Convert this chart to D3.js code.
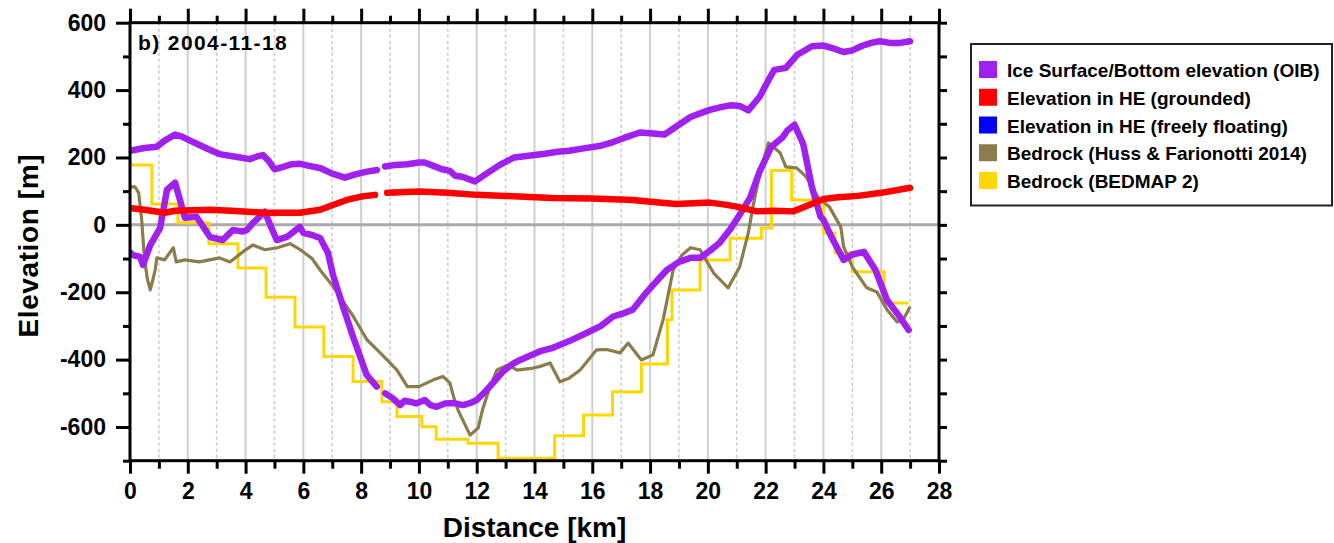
<!DOCTYPE html>
<html>
<head>
<meta charset="utf-8">
<script src="https://cdn.jsdelivr.net/npm/d3@7"></script>
<style>
  html, body { margin: 0; padding: 0; background: #fff; }
  svg { display: block; font-family: "Liberation Sans", Arial, sans-serif; font-weight: bold; }
</style>
</head>
<body>
<svg id="chart" width="1334" height="543"></svg>
<script>
// Profile along the flow line, distance in km, elevation in m (null = data gap)
const surfaceKm = [0,0.5,0.93,1.2,1.56,1.8,2.2,2.7,3.1,3.6,4.15,4.4,4.6,4.8,5.0,5.3,5.6,5.9,6.2,6.6,7.0,7.44,7.8,8.2,8.55,8.7,8.83,9.2,9.6,10.0,10.2,10.5,10.8,11.07,11.25,11.5,11.94,12.3,12.8,13.3,13.8,14.36,14.8,15.2,15.7,16.3,16.7,17.1,17.65,18.0,18.5,19.0,19.4,19.8,20.1,20.5,20.8,21.1,21.4,21.8,22.1,22.3,22.7,23.1,23.6,24.0,24.4,24.7,25.0,25.3,25.65,25.95,26.3,26.65,27.0];
const surfaceM  = [220,228,232,250,268,262,245,225,210,203,195,203,207,190,165,172,180,181,175,168,152,140,150,158,163,null,173,178,180,185,185,175,165,160,146,143,129,150,178,200,205,211,217,220,227,235,245,258,274,272,268,297,320,333,342,350,355,353,340,381,430,460,466,505,530,532,522,513,518,530,540,545,540,540,545];

const bottomKm = [0,0.1,0.35,0.45,0.7,1.04,1.28,1.56,1.73,1.9,2.3,2.77,3.2,3.57,3.9,4.05,4.26,4.67,4.85,5.08,5.43,5.88,6.0,6.3,6.58,6.85,7.03,7.4,7.72,8.19,8.54,8.7,8.83,9.1,9.35,9.5,9.69,9.9,10.2,10.4,10.61,10.9,11.2,11.53,11.8,12.0,12.35,12.6,12.9,13.2,13.5,14.2,14.64,15.2,15.8,16.3,16.72,17.1,17.4,17.9,18.3,18.58,19.0,19.4,19.73,20.1,20.4,20.8,21.1,21.46,21.8,22.2,22.6,22.75,23.0,23.3,23.6,23.9,24.0,24.3,24.7,25.0,25.4,25.8,26.2,26.6,26.95];
const bottomM  = [-82,-90,-95,-119,-60,-10,104,125,74,21,24,-36,-45,-15,-20,-15,6,39,0,-45,-36,-6,-24,-30,-39,-83,-150,-250,-332,-445,-480,null,-500,-515,-535,-522,-525,-530,-520,-535,-540,-530,-529,-535,-528,-520,-490,-465,-436,-415,-401,-375,-365,-345,-321,-300,-272,-262,-252,-198,-160,-134,-110,-98,-98,-75,-54,-10,30,80,160,232,261,280,297,240,113,24,15,-40,-104,-88,-80,-134,-223,-268,-312];

const heKm = [0,0.5,1.2,1.56,2.77,3.5,4.67,5.88,6.58,7.0,7.5,8.0,8.48,8.7,8.9,10.0,11.0,12.0,13.0,14.6,16.0,17.4,18.2,18.9,19.5,20.07,20.6,21.0,21.4,21.7,22.3,22.95,23.4,24.0,24.5,25.2,26.0,27.0];
const heM  = [50,45,36,42,45,42,36,36,45,58,74,84,89,null,95,99,95,89,86,80,78,74,67,62,64,66,60,54,46,40,42,40,55,77,82,86,95,110];

const hussKm = [0,0.17,0.3,0.4,0.5,0.6,0.7,0.8,0.87,0.93,1.2,1.5,1.6,1.9,2.4,3.1,3.46,4.0,4.25,4.67,5.1,5.54,5.9,6.3,6.58,7.03,7.4,7.73,8.2,8.6,8.9,9.24,9.6,10.0,10.5,10.83,11.07,11.2,11.35,11.77,12.05,12.2,12.46,12.7,13.08,13.4,13.95,14.2,14.54,14.88,15.2,15.58,16.15,16.5,16.96,17.24,17.7,18.1,18.45,18.8,19.1,19.4,19.73,20.2,20.7,21.1,21.4,21.56,21.8,22.1,22.5,22.7,23.07,23.4,23.8,24.2,24.6,24.7,25.0,25.5,25.85,26.2,26.55,26.76,27.0];
const hussM  = [113,113,95,20,-100,-160,-193,-160,-134,-98,-104,-68,-110,-104,-110,-98,-110,-74,-60,-74,-68,-56,-74,-100,-134,-183,-230,-272,-341,-375,-401,-431,-480,-480,-460,-450,-469,-510,-549,-624,-603,-549,-480,-431,-416,-431,-425,-420,-410,-466,-455,-431,-371,-370,-380,-351,-401,-386,-282,-134,-90,-68,-74,-143,-187,-125,-24,54,154,243,214,172,169,143,83,54,-6,-65,-125,-187,-199,-252,-288,-282,-243];

// BEDMAP 2 cells: value holds from each break to the next
const bedmapKm = [0,0.76,1.66,2.73,3.74,4.71,5.71,6.71,7.72,8.72,9.24,10.1,10.6,11.7,12.74,14.7,15.7,16.7,17.7,18.6,18.76,19.73,20.77,21.85,22.2,22.9,24.0,24.4,25.0,26.1,26.95];
const bedmapM  = [178,62,6,-56,-128,-215,-303,-391,-465,-525,-569,-599,-636,-648,-693,-626,-564,-495,-413,-282,-193,-104,-40,-9,161,74,-24,-83,-139,-232,-232];

const xTicksMajor = [0,2,4,6,8,10,12,14,16,18,20,22,24,26,28];
const xTicksMinor = [1,3,5,7,9,11,13,15,17,19,21,23,25,27];
const yTicksMajor = [-600,-400,-200,0,200,400,600];
const yTicksMinor = [-700,-500,-300,-100,100,300,500];

const legendLabels = [
  "Ice Surface/Bottom elevation (OIB)",
  "Elevation in HE (grounded)",
  "Elevation in HE (freely floating)",
  "Bedrock (Huss & Farionotti 2014)",
  "Bedrock (BEDMAP 2)"
];
const legendColors = ["#a020f0", "#ff0000", "#0000ff", "#8b7d4b", "#ffd700"];

const panelTitle = "b) 2004-11-18";

// ---- layout ----
const svg = d3.select("#chart");
const plotL = 130, plotR = 939, plotT = 22.7, plotB = 460.7;
const x = d3.scaleLinear().domain([0, 28]).range([plotL, plotR]);
const y = d3.scaleLinear().domain([-700, 600]).range([plotB, plotT]);

svg.append("rect").attr("width", 1334).attr("height", 543).attr("fill", "#fff");

// vertical grid: solid at even km, dotted at odd km
const grid = svg.append("g");
grid.selectAll("line.maj").data(xTicksMajor.slice(1, -1)).join("line")
  .attr("x1", d => x(d)).attr("x2", d => x(d)).attr("y1", plotT).attr("y2", plotB)
  .attr("stroke", "#cfcfcf").attr("stroke-width", 2);
grid.selectAll("line.min").data(xTicksMinor).join("line")
  .attr("x1", d => x(d)).attr("x2", d => x(d)).attr("y1", plotT).attr("y2", plotB)
  .attr("stroke", "#c8c8c8").attr("stroke-width", 1.5).attr("stroke-dasharray", "3,3");

// zero line
svg.append("line").attr("x1", plotL).attr("x2", plotR).attr("y1", y(0)).attr("y2", y(0))
  .attr("stroke", "#aaaaaa").attr("stroke-width", 3);

const clip = svg.append("clipPath").attr("id", "plotclip");
clip.append("rect").attr("x", plotL).attr("y", plotT).attr("width", plotR - plotL).attr("height", plotB - plotT);
const plot = svg.append("g").attr("clip-path", "url(#plotclip)");

function series(xs, ys) { return xs.map((d, i) => [d, ys[i]]); }
const line = d3.line().defined(d => d[1] !== null).x(d => x(d[0])).y(d => y(d[1]));
const stepLine = d3.line().curve(d3.curveStepAfter).x(d => x(d[0])).y(d => y(d[1]));

plot.append("path").datum(series(bedmapKm, bedmapM)).attr("d", stepLine)
  .attr("fill", "none").attr("stroke", legendColors[4]).attr("stroke-width", 3);
plot.append("path").datum(series(hussKm, hussM)).attr("d", line)
  .attr("fill", "none").attr("stroke", legendColors[3]).attr("stroke-width", 3.2).attr("stroke-linejoin", "round");
plot.append("path").datum(series(surfaceKm, surfaceM)).attr("d", line)
  .attr("fill", "none").attr("stroke", legendColors[0]).attr("stroke-width", 6.5)
  .attr("stroke-linejoin", "round").attr("stroke-linecap", "round");
plot.append("path").datum(series(bottomKm, bottomM)).attr("d", line)
  .attr("fill", "none").attr("stroke", legendColors[0]).attr("stroke-width", 6.5)
  .attr("stroke-linejoin", "round").attr("stroke-linecap", "round");
plot.append("path").datum(series(heKm, heM)).attr("d", line)
  .attr("fill", "none").attr("stroke", legendColors[1]).attr("stroke-width", 6.5)
  .attr("stroke-linejoin", "round").attr("stroke-linecap", "round");

// ---- axes ----
const plainNum = d => String(d);
function styleAxis(g, w) {
  g.select(".domain").remove();
  g.selectAll(".tick line").attr("stroke", "#000").attr("stroke-width", w);
  g.selectAll(".tick text").attr("fill", "#000").style("font-size", "23px").style("font-weight", "bold")
    .style("font-family", '"Liberation Sans", Arial, sans-serif');
}
svg.append("g").attr("transform", `translate(${plotL},0)`)
  .call(d3.axisLeft(y).tickValues(yTicksMajor).tickSize(14).tickPadding(10).tickFormat(plainNum))
  .call(g => styleAxis(g, 3));
svg.append("g").attr("transform", `translate(${plotL},0)`)
  .call(d3.axisLeft(y).tickValues(yTicksMinor).tickSize(7).tickFormat(""))
  .call(g => styleAxis(g, 3));
svg.append("g").attr("transform", `translate(${plotR},0)`)
  .call(d3.axisRight(y).tickValues(yTicksMajor.concat(yTicksMinor)).tickSize(8).tickFormat(""))
  .call(g => styleAxis(g, 3));
svg.append("g").attr("transform", `translate(0,${plotB})`)
  .call(d3.axisBottom(x).tickValues(xTicksMajor).tickSize(13).tickPadding(9).tickFormat(plainNum))
  .call(g => styleAxis(g, 3));
svg.append("g").attr("transform", `translate(0,${plotB})`)
  .call(d3.axisBottom(x).tickValues(xTicksMinor).tickSize(8).tickFormat(""))
  .call(g => styleAxis(g, 3));
svg.append("g").attr("transform", `translate(0,${plotT})`)
  .call(d3.axisTop(x).tickValues(xTicksMajor).tickSize(14).tickFormat(""))
  .call(g => styleAxis(g, 3));
svg.append("g").attr("transform", `translate(0,${plotT})`)
  .call(d3.axisTop(x).tickValues(xTicksMinor).tickSize(7).tickFormat(""))
  .call(g => styleAxis(g, 3));

// frame
svg.append("rect").attr("x", plotL).attr("y", plotT).attr("width", plotR - plotL).attr("height", plotB - plotT)
  .attr("fill", "none").attr("stroke", "#000").attr("stroke-width", 3);

// axis titles
svg.append("text").attr("x", (plotL + plotR) / 2).attr("y", 537).attr("text-anchor", "middle")
  .style("font-size", "28px").text("Distance [km]");
svg.append("text").attr("transform", `translate(38,${(plotT + plotB) / 2 + 4}) rotate(-90)`)
  .attr("text-anchor", "middle").style("font-size", "28px").attr("letter-spacing", "0.6px").text("Elevation [m]");

// panel title
svg.append("text").attr("x", 138).attr("y", 50).style("font-size", "21px").attr("letter-spacing", "1.4px")
  .text(panelTitle);

// ---- legend ----
const lg = svg.append("g");
lg.append("rect").attr("x", 971).attr("y", 44).attr("width", 361).attr("height", 161.5)
  .attr("fill", "#fff").attr("stroke", "#222").attr("stroke-width", 2);
legendLabels.forEach((lab, i) => {
  const yy = 77 + i * 27.75;
  lg.append("rect").attr("x", 979).attr("y", yy - 16).attr("width", 18).attr("height", 17)
    .attr("fill", legendColors[i]);
  lg.append("text").attr("x", 1007).attr("y", yy).style("font-size", "19px").text(lab);
});
</script>
</body>
</html>
